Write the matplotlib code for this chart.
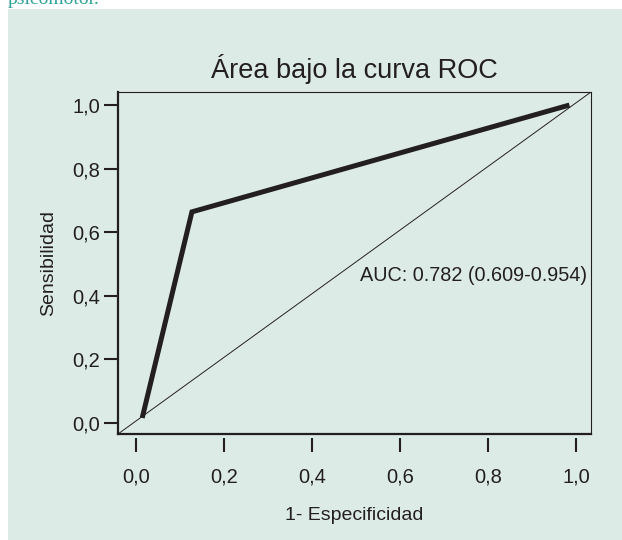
import matplotlib
matplotlib.use("Agg")
import matplotlib.pyplot as plt
from matplotlib.patches import Rectangle

# ----------------------------------------------------------------------
# datos
# ----------------------------------------------------------------------
fpr = [0.014, 0.127, 0.985]          # 1 - especificidad
tpr = [0.016, 0.664, 1.000]          # sensibilidad
ticks = [0.0, 0.2, 0.4, 0.6, 0.8, 1.0]
tick_labels = ["0,0", "0,2", "0,4", "0,6", "0,8", "1,0"]
auc_texto = "AUC: 0.782 (0.609-0.954)"

BG = "#ddebe7"
INK = "#231f20"
TEAL = "#2fa396"

plt.rcParams["font.family"] = ["Liberation Sans", "DejaVu Sans"]

fig = plt.figure(figsize=(6.22, 5.40), dpi=100, facecolor="white")
# panel de fondo
fig.patches.append(Rectangle((8 / 622, 0), 1, (540 - 9) / 540,
                             transform=fig.transFigure, facecolor=BG,
                             edgecolor="none", zorder=-5))
# texto cortado arriba (viene de la pagina anterior)
fig.text(8 / 622, 1 - 4 / 540, "psicomotor.", color=TEAL, fontsize=14,
         family="Liberation Serif", va="baseline", ha="left")

ax = fig.add_axes([118 / 622, (540 - 434) / 540, 473 / 622, 342 / 540])
ax.set_facecolor("none")
ax.set_zorder(2)

ax.plot(fpr, tpr, color=INK, lw=3.6, solid_capstyle="butt",
        solid_joinstyle="miter", zorder=3)
ax.plot([0, 1], [0, 1], transform=ax.transAxes, color=INK, lw=0.7, zorder=2)

ax.set_xlim(-0.041, 1.034)
ax.set_ylim(-0.0346, 1.041)
ax.set_xticks(ticks)
ax.set_xticklabels(tick_labels)
ax.set_yticks(ticks)
ax.set_yticklabels(tick_labels)

ax.text(0.509, 0.447, auc_texto, color=INK, fontsize=14.3, va="baseline")

ax.set_title("Área bajo la curva ROC", color=INK, fontsize=19.5, pad=10)
ax.set_xlabel("1- Especificidad", color=INK, fontsize=14, labelpad=15)
ax.set_ylabel("Sensibilidad", color=INK, fontsize=14, labelpad=11)

# marco: izquierda gruesa, arriba/derecha finas, abajo separado de las marcas
ax.spines["left"].set_linewidth(1.6)
ax.spines["left"].set_color(INK)
for s in ("top", "right"):
    ax.spines[s].set_linewidth(0.8)
    ax.spines[s].set_color(INK)
ax.spines["bottom"].set_position(("outward", 3))
ax.spines["bottom"].set_visible(False)
ax.plot([0, 1], [0, 0], transform=ax.transAxes, color=INK, lw=1.6,
        clip_on=False, solid_capstyle="projecting", zorder=4)

ax.tick_params(axis="both", direction="out", length=10, width=1.5,
               colors=INK, labelsize=14.5)
ax.tick_params(axis="y", pad=3)
ax.tick_params(axis="x", pad=11)

fig.savefig("out.png", dpi=100, facecolor="white")
